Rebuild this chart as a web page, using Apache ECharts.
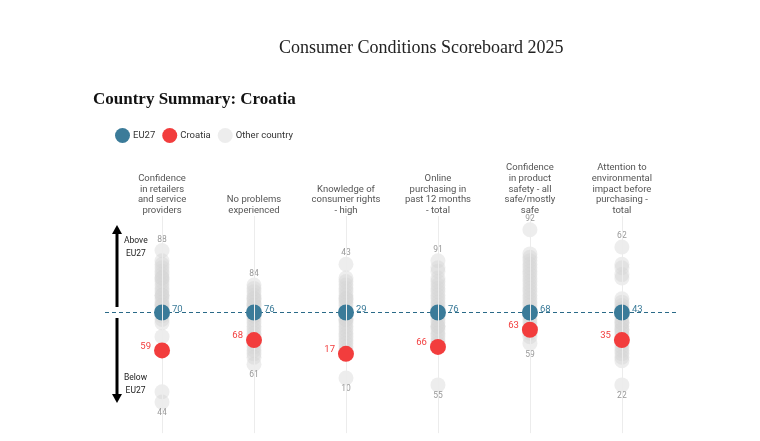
<!DOCTYPE html>
<html>
<head>
<meta charset="utf-8">
<script src="https://cdn.jsdelivr.net/npm/echarts@6/dist/echarts.min.js"></script>
<style>
  html, body { margin: 0; padding: 0; background: #fff; }
  #chart { width: 760px; height: 441px; }
</style>
</head>
<body>
<div id="chart"></div>
<script>
// column headers
var categories = [
    'Confidence\nin retailers\nand service\nproviders',
    'No problems\nexperienced',
    'Knowledge of\nconsumer rights\n- high',
    'Online\npurchasing in\npast 12 months\n- total',
    'Confidence\nin product\nsafety - all\nsafe/mostly\nsafe',
    'Attention to\nenvironmental\nimpact before\npurchasing -\ntotal'
];

// EU27 average and Croatia
var eu27 = [70, 76, 29, 76, 68, 43];
var croatia = [59, 68, 17, 66, 63, 35];

// other member states, per indicator
var otherRetail = [88, 85, 84, 83, 82, 81, 80, 80, 79, 78, 77, 76, 75, 75, 74, 73, 72, 72, 71, 70, 69, 68, 67, 63, 47, 44];
var otherProblems = [84, 83, 82, 81, 80, 80, 79, 78, 78, 77, 76, 75, 75, 74, 73, 72, 71, 70, 69, 68, 67, 66, 65, 64, 63, 61];
var otherKnowledge = [43, 39, 38, 37, 36, 35, 34, 33, 33, 32, 31, 30, 29, 28, 27, 27, 26, 25, 24, 23, 22, 21, 20, 19, 18, 10];
var otherOnline = [91, 89, 88, 86, 85, 84, 83, 82, 81, 80, 79, 78, 77, 77, 76, 75, 74, 73, 72, 72, 71, 70, 69, 68, 67, 55];
var otherSafety = [92, 85, 84, 83, 82, 81, 80, 79, 78, 77, 76, 75, 74, 73, 72, 71, 70, 69, 68, 67, 66, 65, 64, 62, 61, 59];
var otherEnv = [62, 57, 56, 54, 53, 47, 46, 45, 44, 44, 42, 41, 40, 40, 39, 38, 38, 37, 36, 34, 33, 32, 31, 30, 29, 22];
var others = [otherRetail, otherProblems, otherKnowledge, otherOnline, otherSafety, otherEnv];

var euColor = '#3b7b99';
var hrColor = '#f23d3d';
var numFont = "Roboto, 'Noto Sans', sans-serif";

// grey dots: distance from EU27, max labelled on top, min below
var otherData = [];
others.forEach(function (vals, i) {
    var mx = Math.max.apply(null, vals);
    var mn = Math.min.apply(null, vals);
    vals.forEach(function (v, j) {
        var item = { value: [i, v - eu27[i]], raw: v };
        if (v === mx && vals.indexOf(v) === j) {
            item.label = { show: true, position: 'top', distance: 0, offset: [0, 1] };
        } else if (v === mn && vals.lastIndexOf(v) === j) {
            item.label = { show: true, position: 'bottom', distance: 0, offset: [0, -1] };
        }
        otherData.push(item);
    });
});

var euData = eu27.map(function (v, i) { return { value: [i, 0], raw: v }; });
var hrData = croatia.map(function (v, i) { return { value: [i, v - eu27[i]], raw: v }; });

var vLines = categories.map(function (c, i) { return { xAxis: i }; });

var myChart = echarts.init(document.getElementById('chart'));

var option = {
    backgroundColor: '#fff',
    animation: false,
    title: [{
        text: 'Consumer Conditions Scoreboard 2025',
        left: 274,
        top: 34,
        textStyle: { fontFamily: "'Liberation Serif', serif", fontSize: 18, fontWeight: 'normal', color: '#222' }
    }, {
        text: 'Country Summary: Croatia',
        left: 88,
        top: 86,
        textStyle: { fontFamily: "'Liberation Serif', serif", fontSize: 17, fontWeight: 'bold', color: '#111' }
    }],
    legend: {
        left: 110,
        top: 123,
        icon: 'circle',
        itemWidth: 15,
        itemHeight: 15,
        itemGap: 7,
        data: ['EU27', 'Croatia', 'Other country'],
        textStyle: { fontFamily: numFont, fontSize: 9.5, color: '#333', padding: [0, 0, 0, -2] }
    },
    grid: { left: 105, right: 82, top: 216, bottom: 7.875 },
    xAxis: {
        type: 'value',
        position: 'top',
        min: -0.62,
        max: 5.61,
        axisLine: { show: false },
        axisTick: { show: false },
        splitLine: { show: false },
        axisLabel: {
            customValues: [0, 1, 2, 3, 4, 5],
            formatter: function (v) { return categories[Math.round(v)]; },
            margin: 0,
            fontFamily: numFont,
            fontSize: 9.5,
            lineHeight: 10.7,
            color: '#555',
            align: 'center'
        }
    },
    yAxis: {
        type: 'value',
        min: -35,
        max: 28,
        show: false
    },
    graphic: [
        // up arrow
        { type: 'line', shape: { x1: 117, y1: 307, x2: 117, y2: 232 }, style: { stroke: '#000', lineWidth: 3 } },
        { type: 'polygon', shape: { points: [[112, 234], [122, 234], [117, 225]] }, style: { fill: '#000' } },
        // down arrow
        { type: 'line', shape: { x1: 117, y1: 318, x2: 117, y2: 396 }, style: { stroke: '#000', lineWidth: 3 } },
        { type: 'polygon', shape: { points: [[112, 394], [122, 394], [117, 403]] }, style: { fill: '#000' } },
        { type: 'text', left: 124, top: 234, style: { text: 'Above\nEU27', fontFamily: numFont, fontSize: 8.5, lineHeight: 13, fill: '#222', textAlign: 'center' } },
        { type: 'text', left: 124, top: 371, style: { text: 'Below\nEU27', fontFamily: numFont, fontSize: 8.5, lineHeight: 13, fill: '#222', textAlign: 'center' } }
    ],
    series: [{
        name: 'Other country',
        type: 'scatter',
        symbolSize: 15,
        itemStyle: { color: 'rgba(212,212,212,0.42)', opacity: 1 },
        emphasis: { disabled: true },
        label: {
            show: false,
            formatter: function (p) { return p.data.raw; },
            fontFamily: numFont,
            fontSize: 8.5,
            color: '#999'
        },
        data: otherData,
        markLine: {
            silent: true,
            symbol: 'none',
            label: { show: false },
            lineStyle: { color: '#ececec', width: 1, type: 'solid', opacity: 1 },
            data: vLines
        },
        z: 2
    }, {
        name: 'EU27',
        type: 'scatter',
        symbolSize: 16,
        itemStyle: { color: euColor, opacity: 1 },
        label: {
            show: true,
            position: 'right',
            distance: 2,
            offset: [0, -3],
            formatter: function (p) { return p.data.raw; },
            fontFamily: numFont,
            fontSize: 9.5,
            color: euColor
        },
        data: euData,
        markLine: {
            silent: true,
            symbol: 'none',
            label: { show: false },
            lineStyle: { color: '#2a6a88', width: 1.2, type: [4, 3], opacity: 1 },
            data: [{ yAxis: 0 }],
            z: 1
        },
        z: 4
    }, {
        name: 'Croatia',
        type: 'scatter',
        symbolSize: 16,
        itemStyle: { color: hrColor, opacity: 1 },
        label: {
            show: true,
            position: 'left',
            distance: 3,
            offset: [0, -4],
            formatter: function (p) { return p.data.raw; },
            fontFamily: numFont,
            fontSize: 9.5,
            color: hrColor
        },
        data: hrData,
        z: 5
    }]
};

myChart.setOption(option);
</script>
</body>
</html>
